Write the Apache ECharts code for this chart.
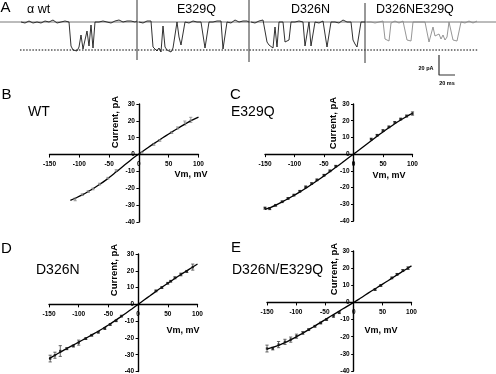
<!DOCTYPE html>
<html><head><meta charset="utf-8">
<script src="https://cdn.jsdelivr.net/npm/echarts@6/dist/echarts.min.js"></script>
<style>html,body{margin:0;padding:0;background:#fff}#c{width:496px;height:374px}</style>
</head><body><div id="c"></div>
<script>
// ---------- Panel A: single-channel traces (pA), sampled every DT ms ----------
const DT = 2.5;
const wtStart = 26.25, e329qStart = 173.75, d326nStart = 313.75, dblStart = 458.75;
const wtTrace = [0,1,-1,0,1,0,-1,1,0,2,-1,0,1,-1,0,1,2,0,-1,1,0,2,1,-1,0,
  -24,-28,-26,-29,-25,-13,-27,-25,-9,-24,-3,-26,
  0,1,0,-1,1,2,0,1,-1,0,1,0,2,1,0,-1,1,0,1,2,0,1];
const e329qTrace = [0,1,-1,0,1,0,1,
  -25,-27,-29,-26,-30,-4,-25,-28,-27,-30,-26,-28,
  0,
  -15,-23,-22,
  0,1,-1,0,1,2,0,1,0,-1,
  -26,-27,
  0,1,0,-1,1,0,1,
  -27,-26,
  0,1,-1,0,2,1,0,-1,1,0,1,0];
const d326nTrace = [0,1,-1,0,1,0,2,0,
  -20,-23,-25,-26,
  -5,-25,
  0,1,0,
  -20,-22,-18,
  0,1,0,-1,1,2,0,
  -24,-25,0,-24,-25,
  0,1,-1,0,1,0,
  -25,-26,
  0,1,0,1,-1,0,2,1,0,1,0,
  -18,-22,-25,-27,
  0,1,0];
const dblTrace = [0,-1,0,1,-1,0,0,-1,1,
  -17,-19,-19,
  -1,0,1,0,-1,0,1,0,
  -18,-20,-19,
  0,-1,0,1,0,-1,0,1,
  -20,-21,
  -5,-14,-16,-12,-17,-13,-18,-15,
  0,-1,
  -18,-20,-19,-20,
  0,1,-1,0,1,0,-1,0,1];
const traceLabels = ['\u03b1 wt', 'E329Q', 'D326N', 'D326NE329Q'];
const sepT = [171.25, 311.25, 456.25];
const sepTop = [22, 22, 19];
const sepBottom = [-38, -40, -41];
const openRefLevel = -28, openRefFrom = 25, openRefTo = 597.5;
const scaleBarT = [548.75, 548.75, 568.75];
const scaleBarI = [-33, -53, -53];

// ---------- Panels B-E: I-V relations ----------
const vmRange = [-150, 100]; // mV
const iRange = [-40, 30];    // pA

const bFitVm = [-115,-105,-95,-85,-75,-65,-55,-45,-35,-25,-15,-5,0,5,15,25,35,45,55,65,75,85,100];
const bFitI  = [-27.2,-25.6,-23.9,-21.9,-19.8,-17.5,-15,-12.3,-9.4,-6.5,-3.6,-0.9,0.3,1.5,4.1,6.5,8.8,11.1,13.3,15.5,17.6,19.7,22.2];
const bVm  = [-107,-95,-85,-77,-66,-52,-38,5,25,35,55,65,77,87];
const bI   = [-26.6,-23.8,-22,-20.4,-17.5,-14,-9.5,1.2,6,8.4,13,15.8,18.7,20.6];
const bErr = [0.8,0.5,0.5,0.5,0.5,0.5,0.5,0.4,0.5,0.5,0.5,0.6,1.2,1.5];

const cFitVm = [-150,-140,-130,-120,-110,-100,-90,-80,-70,-60,-50,-40,-30,-20,-10,0,10,20,30,40,50,60,70,80,90,100];
const cFitI  = [-33,-31.8,-30.2,-28.4,-26.5,-24.5,-22.4,-20.2,-17.9,-15.5,-13,-10.5,-7.9,-5.3,-2.6,0,2.6,5.3,8,10.7,13.3,15.8,18.2,20.4,22.5,24.5];
const cVm  = [-150,-142,-132,-121,-111,-101,-91,-81,-71,-62,-50,-40,-30,30,40,50,60,70,80,90,100];
const cI   = [-32.3,-32.6,-30.6,-28.5,-26.5,-24.5,-22.2,-19.6,-17.6,-15.4,-12.6,-10,-7.2,9,11.3,14.1,16.3,19,21,22.8,24.3];
const cErr = [0.6,0.6,0.5,0.5,0.5,0.5,0.5,0.5,0.5,0.5,0.5,0.5,0.5,0.5,0.5,0.5,0.5,0.5,0.5,0.6,1];

const dFitVm = [-150,-140,-130,-120,-110,-100,-90,-80,-70,-60,-50,-40,-30,-20,-10,0,10,20,30,40,50,60,70,80,90,100];
const dFitI  = [-32.3,-30.3,-28.3,-26.3,-24.4,-22.5,-20.6,-18.6,-16.6,-14.5,-12.3,-10,-7.6,-5.1,-2.6,0,2.6,5.1,7.7,10.2,12.6,15,17.3,19.6,21.8,24];
const dVm  = [-148,-140,-131,-120,-109,-100,-88,-78,-67,-56,-47,-37,-28,30,40,50,55,62,72,82,92];
const dI   = [-32.3,-30.3,-27.8,-26.4,-24.8,-22.8,-20.4,-18.4,-16.6,-14.4,-12,-9.8,-7,8,10,12.6,13.8,15.8,17.8,19.6,22.2];
const dErr = [2,1.8,3.2,0.6,0.6,1.5,0.5,0.5,0.5,0.5,0.5,0.5,0.5,0.5,0.5,0.5,0.5,0.6,0.8,0.6,1.8];

const eFitVm = [-150,-140,-130,-120,-110,-100,-90,-80,-70,-60,-50,-40,-30,-20,-10,0,10,20,30,40,50,60,70,80,90,100];
const eFitI  = [-27.2,-26.2,-25,-23.6,-22,-20.2,-18.3,-16.3,-14.3,-12.2,-10.2,-8.1,-6.1,-4,-2,0,2.1,4.3,6.5,8.6,10.7,12.8,15,17.1,19.2,21.3];
const eVm  = [-150,-140,-130,-119,-109,-99,-88,-78,-67,-57,-47,-35,-25,37,47,66,75,85,94];
const eI   = [-26.9,-26.9,-24.6,-23,-21.7,-19.7,-17.8,-15.9,-13.9,-12,-10,-8.1,-6,7.5,9.9,14.3,16.4,18.6,20];
const eErr = [2,0.8,1.8,1.5,1.5,1.2,0.8,0.5,0.5,0.5,0.5,0.5,0.5,0.5,0.5,0.5,0.5,0.6,0.8];

const ivTitles = ['WT', 'E329Q', 'D326N', 'D326N/E329Q'];
const panelLetters = ['A', 'B', 'C', 'D', 'E'];

// ---------------------------------------------------------------------------
const FONT = 'Liberation Sans, Arial, Helvetica, sans-serif';
const grids = [
  {left: 0, top: 0, width: 496, height: 80},
  {left: 49.5, top: 104, width: 149, height: 118},
  {left: 265, top: 104, width: 147.5, height: 117},
  {left: 49, top: 254, width: 148.5, height: 117.5},
  {left: 267, top: 251, width: 144.5, height: 120}
].map(g => Object.assign(g, {containLabel: false, outerBoundsMode: 'none'}));

const xAxes = [{gridIndex: 0, type: 'value', min: 0, max: 620, show: false}];
const yAxes = [{gridIndex: 0, type: 'value', min: -58, max: 22, show: false}];
for (let k = 1; k <= 4; k++) {
  const g = grids[k];
  // axes cross at the origin: shift the bottom/left axes onto the zero lines
  const xOff = -g.height * (0 - iRange[0]) / (iRange[1] - iRange[0]);
  const yOff = -g.width * (0 - vmRange[0]) / (vmRange[1] - vmRange[0]);
  xAxes.push({
    gridIndex: k, type: 'value', min: vmRange[0], max: vmRange[1], interval: 50,
    position: 'bottom', offset: xOff,
    axisLine: {onZero: false, lineStyle: {color: '#000', width: 1.4}},
    axisTick: {show: true, length: 3, lineStyle: {color: '#000', width: 1}},
    axisLabel: {margin: 6.5, fontSize: 6.5, fontWeight: 'bold', color: '#000', fontFamily: FONT},
    splitLine: {show: false}
  });
  yAxes.push({
    gridIndex: k, type: 'value', min: iRange[0], max: iRange[1], interval: 10,
    position: 'left', offset: yOff,
    axisLine: {onZero: false, lineStyle: {color: '#000', width: 1.4}},
    axisTick: {show: true, length: 2.5, lineStyle: {color: '#000', width: 1}},
    axisLabel: {margin: 4, fontSize: 6.5, fontWeight: 'bold', color: '#000', fontFamily: FONT},
    splitLine: {show: false}
  });
}

const series = [];
function traceSeries(start, vals, color) {
  return {
    type: 'line', xAxisIndex: 0, yAxisIndex: 0, showSymbol: false, silent: true,
    data: vals.map((v, i) => [start + i * DT, v]),
    lineStyle: {color: color, width: 0.9}, z: 3
  };
}
series.push({type: 'line', xAxisIndex: 0, yAxisIndex: 0, showSymbol: false, silent: true,
  data: [[0, 0], [620, 0]], lineStyle: {color: '#555', width: 0.8}, z: 2});
series.push({type: 'line', xAxisIndex: 0, yAxisIndex: 0, showSymbol: false, silent: true,
  data: [[openRefFrom, openRefLevel], [openRefTo, openRefLevel]],
  lineStyle: {color: '#555', width: 1.5, type: [1.5, 1.6]}, z: 2});
series.push(traceSeries(wtStart, wtTrace, '#1a1a1a'));
series.push(traceSeries(e329qStart, e329qTrace, '#1a1a1a'));
series.push(traceSeries(d326nStart, d326nTrace, '#1a1a1a'));
series.push(traceSeries(dblStart, dblTrace, '#8a8a8a'));
sepT.forEach((t, i) => {
  series.push({type: 'line', xAxisIndex: 0, yAxisIndex: 0, showSymbol: false, silent: true,
    data: [[t, sepTop[i]], [t, sepBottom[i]]], lineStyle: {color: '#333', width: 1}, z: 4});
});
series.push({type: 'line', xAxisIndex: 0, yAxisIndex: 0, showSymbol: false, silent: true,
  data: scaleBarT.map((t, i) => [t, scaleBarI[i]]), lineStyle: {color: '#333', width: 1.2}, z: 4});

const ivPanels = [
  {fitVm: bFitVm, fitI: bFitI, vm: bVm, cur: bI, err: bErr, sym: 'rect', size: 2, col: '#9a9a9a', errCol: '#888'},
  {fitVm: cFitVm, fitI: cFitI, vm: cVm, cur: cI, err: cErr, sym: 'rect', size: 2.4, col: '#111', errCol: '#444'},
  {fitVm: dFitVm, fitI: dFitI, vm: dVm, cur: dI, err: dErr, sym: 'rect', size: 2.4, col: '#111', errCol: '#444'},
  {fitVm: eFitVm, fitI: eFitI, vm: eVm, cur: eI, err: eErr, sym: 'rect', size: 2.4, col: '#111', errCol: '#444'}
];
function errItem(color) {
  return function (params, api) {
    const x = api.value(0), y = api.value(1), e = api.value(2);
    const top = api.coord([x, y + e]);
    const bot = api.coord([x, y - e]);
    const w = 1.6;
    const st = {stroke: color, lineWidth: 0.8};
    return {type: 'group', children: [
      {type: 'line', shape: {x1: top[0], y1: top[1], x2: bot[0], y2: bot[1]}, style: st},
      {type: 'line', shape: {x1: top[0] - w, y1: top[1], x2: top[0] + w, y2: top[1]}, style: st},
      {type: 'line', shape: {x1: bot[0] - w, y1: bot[1], x2: bot[0] + w, y2: bot[1]}, style: st}
    ]};
  };
}
ivPanels.forEach((p, k) => {
  const gi = k + 1;
  series.push({type: 'custom', xAxisIndex: gi, yAxisIndex: gi, silent: true,
    renderItem: errItem(p.errCol), encode: {x: 0, y: 1},
    data: p.vm.map((v, i) => [v, p.cur[i], p.err[i]]), z: 3});
  series.push({type: 'line', xAxisIndex: gi, yAxisIndex: gi, showSymbol: false, silent: true,
    smooth: 0.2, data: p.fitVm.map((v, i) => [v, p.fitI[i]]),
    lineStyle: {color: '#000', width: 1.3}, z: 4});
  series.push({type: 'scatter', xAxisIndex: gi, yAxisIndex: gi, silent: true,
    symbol: p.sym, symbolSize: p.size, data: p.vm.map((v, i) => [v, p.cur[i]]),
    itemStyle: {color: p.col}, z: 5});
});

function txt(x, y, text, size, weight, opts) {
  return Object.assign({type: 'text', x: x, y: y, silent: true,
    style: {text: text, fill: '#000', font: (weight || 'normal') + ' ' + size + 'px ' + FONT,
      textAlign: 'left', textVerticalAlign: 'middle', verticalAlign: 'middle'}}, opts || {});
}
function ctxt(x, y, text, size, weight, rot) {
  const t = txt(x, y, text, size, weight);
  t.style.textAlign = 'center'; t.style.align = 'center';
  if (rot) t.rotation = rot;
  return t;
}
const graphic = [
  txt(0.5, 8, panelLetters[0], 15),
  txt(27, 9.5, traceLabels[0], 12.5),
  txt(177, 10, traceLabels[1], 12.5),
  txt(291, 10, traceLabels[2], 12.5),
  txt(376, 10, traceLabels[3], 12.5),
  ctxt(426, 68, '20 pA', 5.5, 'bold'),
  ctxt(447, 83, '20 ms', 5.5, 'bold'),
  txt(1.5, 94.5, panelLetters[1], 15),
  txt(28, 112.5, ivTitles[0], 14),
  txt(230, 94.5, panelLetters[2], 15),
  txt(231, 112, ivTitles[1], 14),
  txt(1, 248.5, panelLetters[3], 15),
  txt(36, 270, ivTitles[2], 14),
  txt(231, 247.5, panelLetters[4], 15),
  txt(232, 270, ivTitles[3], 14),
  ctxt(115.5, 122, 'Current, pA', 9.5, 'bold', Math.PI / 2),
  ctxt(333.5, 123, 'Current, pA', 9.5, 'bold', Math.PI / 2),
  ctxt(114.5, 270, 'Current, pA', 9.5, 'bold', Math.PI / 2),
  ctxt(334.5, 269, 'Current, pA', 9.5, 'bold', Math.PI / 2),
  ctxt(191, 175, 'Vm, mV', 9, 'bold'),
  ctxt(389, 175.5, 'Vm, mV', 9, 'bold'),
  ctxt(183, 330.5, 'Vm, mV', 9, 'bold'),
  ctxt(381, 331, 'Vm, mV', 9, 'bold')
];

const chart = echarts.init(document.getElementById('c'), null, {renderer: 'canvas'});
chart.setOption({
  animation: false,
  backgroundColor: '#fff',
  grid: grids, xAxis: xAxes, yAxis: yAxes, series: series, graphic: graphic
});
</script></body></html>
